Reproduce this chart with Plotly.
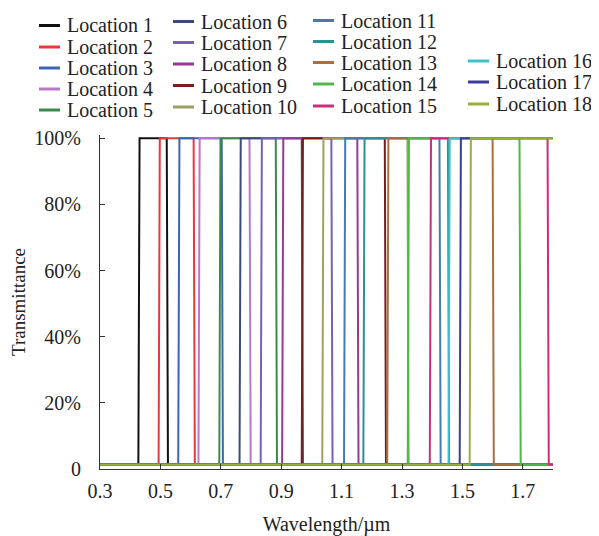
import plotly.graph_objects as go

# ---------------- data ----------------
locations = [f"Location {i}" for i in range(1, 19)]
# wavelength (µm) where each window opens (rise to ~100 %) and closes (fall to ~0)
rise_um = [0.431, 0.498, 0.563, 0.630, 0.699, 0.766, 0.836, 0.907, 0.972,
           1.040, 1.112, 1.176, 1.255, 1.323, 1.396, 1.458, 1.495, 1.528]
fall_um = [0.521, 0.610, 0.703, 0.795, 0.882, 0.968, 1.066, 1.152, 1.243,
           1.318, 1.424, 1.452, 1.600, 1.689, 1.782, None, None, None]
pass_level = 1.0      # transmittance inside the window
block_level = 0.013   # transmittance outside the window
edge_width = 0.004    # µm width of each transition foot
colors = ["#111111", "#e8383a", "#3c64b4", "#b878c8", "#3a8a4a", "#3c4a78",
          "#7860b8", "#983898", "#7a1c1c", "#a0a060", "#4a78b0", "#2e9090",
          "#a87040", "#50b848", "#c8307c", "#40c0c8", "#3c3c98", "#98b040"]
x_start, x_end = 0.3, 1.8
x_ticks = [0.3, 0.5, 0.7, 0.9, 1.1, 1.3, 1.5, 1.7]
y_ticks = [0, 0.2, 0.4, 0.6, 0.8, 1.0]
y_ticktext = ["0", "20%", "40%", "60%", "80%", "100%"]

FONT = "Liberation Serif, Times New Roman, DejaVu Serif, serif"
OFF = 8                      # page body margin
W, H = 599 - OFF, 536 - OFF
L, R, T, B = 100 - OFF, 46, 135 - OFF, 67

fig = go.Figure()
for name, r, f, c in zip(locations, rise_um, fall_um, colors):
    xs = [x_start, r - edge_width, r]
    ys = [block_level, block_level, pass_level]
    if f is None:
        xs += [x_end]
        ys += [pass_level]
    else:
        xs += [f, f + edge_width, x_end]
        ys += [pass_level, block_level, block_level]
    fig.add_trace(go.Scatter(x=xs, y=ys, mode="lines", name=name,
                             line=dict(color=c, width=2), showlegend=False))

# ---------------- legend built from annotations ----------------
def px_x(px):
    return (px - OFF - L) / (W - L - R)

def px_y(py):
    return (H - B - (py - OFF)) / (H - T - B)

legend_cols = [
    (39, 65, [25.5, 47, 68, 89, 110]),
    (173, 199, [21.5, 42.5, 64, 85.5, 107]),
    (313, 339, [20.5, 41.5, 62.5, 84, 106]),
    (468, 494, [61, 82, 104]),
]
shapes = []
annotations = []
idx = 0
for lx, tx, rows in legend_cols:
    for ry in rows:
        shapes.append(dict(type="line", xref="paper", yref="paper",
                           x0=px_x(lx), x1=px_x(lx + 21), y0=px_y(ry), y1=px_y(ry),
                           line=dict(color=colors[idx], width=3)))
        annotations.append(dict(text=locations[idx], xref="paper", yref="paper",
                                x=px_x(tx), y=px_y(ry), xanchor="left", yanchor="middle",
                                showarrow=False,
                                font=dict(family=FONT, size=20, color="#222222")))
        idx += 1

fig.update_layout(
    width=W, height=H,
    margin=dict(l=L, r=R, t=T, b=B, pad=0, autoexpand=False),
    paper_bgcolor="white", plot_bgcolor="white",
    font=dict(family=FONT, size=20, color="#222222"),
    shapes=shapes, annotations=annotations,
    showlegend=False,
)
fig.update_xaxes(
    range=[x_start, x_end], tickvals=x_ticks, ticktext=[f"{v:.1f}" for v in x_ticks],
    showgrid=False, zeroline=False, showline=True, linecolor="#333333", linewidth=1,
    ticks="inside", ticklen=5, tickcolor="#333333", ticklabelstandoff=4,
    automargin=False,
    title=dict(text="Wavelength/µm", font=dict(family=FONT, size=20), standoff=17),
)
fig.update_yaxes(
    range=[0, 1.01], tickvals=y_ticks, ticktext=y_ticktext,
    showgrid=False, zeroline=False, showline=True, linecolor="#333333", linewidth=1,
    ticks="inside", ticklen=5, tickcolor="#333333", ticklabelstandoff=14,
    automargin=False,
    title=dict(text="Transmittance", font=dict(family=FONT, size=19), standoff=5),
)

fig.write_html("out.html")
